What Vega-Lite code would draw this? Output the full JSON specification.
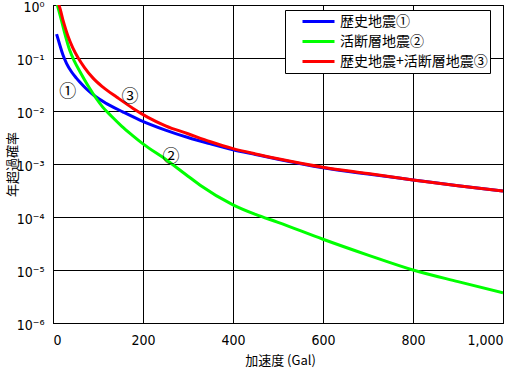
{
  "$schema": "https://vega.github.io/schema/vega-lite/v6.json",
  "width": 450,
  "height": 318,
  "autosize": {"type": "none"},
  "padding": {"left": 53, "top": 5, "right": 17, "bottom": 47},
  "background": "white",
  "config": {
    "view": {"stroke": "black", "strokeWidth": 1},
    "axis": {
      "grid": true, "gridColor": "black", "gridOpacity": 1, "gridWidth": 1,
      "domainColor": "black", "domainWidth": 1, "ticks": false,
      "labelColor": "black", "titleColor": "black",
      "labelFont": "DejaVu Sans Condensed, sans-serif",
      "labelFontSize": 14,
      "titleFont": "Noto Sans CJK JP", "titleFontSize": 13, "titleFontWeight": "normal"
    },
    "legend": {
      "labelFont": "Noto Sans CJK JP", "labelFontSize": 14, "labelColor": "black"
    }
  },
  "datasets": {
    "curves": [
      {"g": 8, "p": 0.282, "s": "歴史地震①"},
      {"g": 15, "p": 0.178, "s": "歴史地震①"},
      {"g": 22, "p": 0.115, "s": "歴史地震①"},
      {"g": 30, "p": 0.0794, "s": "歴史地震①"},
      {"g": 41, "p": 0.055, "s": "歴史地震①"},
      {"g": 52, "p": 0.0417, "s": "歴史地震①"},
      {"g": 60, "p": 0.0347, "s": "歴史地震①"},
      {"g": 75, "p": 0.0257, "s": "歴史地震①"},
      {"g": 90, "p": 0.02, "s": "歴史地震①"},
      {"g": 119, "p": 0.0138, "s": "歴史地震①"},
      {"g": 156, "p": 0.00955, "s": "歴史地震①"},
      {"g": 193, "p": 0.00676, "s": "歴史地震①"},
      {"g": 250, "p": 0.00437, "s": "歴史地震①"},
      {"g": 300, "p": 0.00316, "s": "歴史地震①"},
      {"g": 350, "p": 0.0024, "s": "歴史地震①"},
      {"g": 400, "p": 0.00186, "s": "歴史地震①"},
      {"g": 450, "p": 0.00151, "s": "歴史地震①"},
      {"g": 500, "p": 0.00123, "s": "歴史地震①"},
      {"g": 600, "p": 0.000851, "s": "歴史地震①"},
      {"g": 700, "p": 0.000646, "s": "歴史地震①"},
      {"g": 800, "p": 0.000501, "s": "歴史地震①"},
      {"g": 900, "p": 0.000389, "s": "歴史地震①"},
      {"g": 1000, "p": 0.000309, "s": "歴史地震①"},
      {"g": 9, "p": 1.05, "s": "活断層地震②"},
      {"g": 18.5, "p": 0.525, "s": "活断層地震②"},
      {"g": 26, "p": 0.295, "s": "活断層地震②"},
      {"g": 37, "p": 0.141, "s": "活断層地震②"},
      {"g": 48, "p": 0.0851, "s": "活断層地震②"},
      {"g": 60, "p": 0.055, "s": "活断層地震②"},
      {"g": 70, "p": 0.0389, "s": "活断層地震②"},
      {"g": 82, "p": 0.0263, "s": "活断層地震②"},
      {"g": 95, "p": 0.0178, "s": "活断層地震②"},
      {"g": 111, "p": 0.0117, "s": "活断層地震②"},
      {"g": 130, "p": 0.00794, "s": "活断層地震②"},
      {"g": 153, "p": 0.00513, "s": "活断層地震②"},
      {"g": 175, "p": 0.00355, "s": "活断層地震②"},
      {"g": 200, "p": 0.0024, "s": "活断層地震②"},
      {"g": 253, "p": 0.00118, "s": "活断層地震②"},
      {"g": 300, "p": 0.000589, "s": "活断層地震②"},
      {"g": 327, "p": 0.000398, "s": "活断層地震②"},
      {"g": 400, "p": 0.00017, "s": "活断層地震②"},
      {"g": 450, "p": 0.000112, "s": "活断層地震②"},
      {"g": 500, "p": 0.0000794, "s": "活断層地震②"},
      {"g": 600, "p": 0.000038, "s": "活断層地震②"},
      {"g": 700, "p": 0.0000191, "s": "活断層地震②"},
      {"g": 800, "p": 0.00001, "s": "活断層地震②"},
      {"g": 900, "p": 0.00000603, "s": "活断層地震②"},
      {"g": 1000, "p": 0.00000372, "s": "活断層地震②"},
      {"g": 9, "p": 1.1, "s": "歴史地震+活断層地震③"},
      {"g": 13, "p": 1.0, "s": "歴史地震+活断層地震③"},
      {"g": 22, "p": 0.525, "s": "歴史地震+活断層地震③"},
      {"g": 33, "p": 0.263, "s": "歴史地震+活断層地震③"},
      {"g": 44, "p": 0.155, "s": "歴史地震+活断層地震③"},
      {"g": 56, "p": 0.1, "s": "歴史地震+活断層地震③"},
      {"g": 70, "p": 0.0661, "s": "歴史地震+活断層地震③"},
      {"g": 89, "p": 0.0417, "s": "歴史地震+活断層地震③"},
      {"g": 111, "p": 0.0282, "s": "歴史地震+活断層地震③"},
      {"g": 142, "p": 0.0182, "s": "歴史地震+活断層地震③"},
      {"g": 178, "p": 0.0112, "s": "歴史地震+活断層地震③"},
      {"g": 211, "p": 0.00759, "s": "歴史地震+活断層地震③"},
      {"g": 250, "p": 0.00525, "s": "歴史地震+活断層地震③"},
      {"g": 300, "p": 0.00372, "s": "歴史地震+活断層地震③"},
      {"g": 350, "p": 0.00263, "s": "歴史地震+活断層地震③"},
      {"g": 400, "p": 0.00195, "s": "歴史地震+活断層地震③"},
      {"g": 450, "p": 0.00155, "s": "歴史地震+活断層地震③"},
      {"g": 500, "p": 0.00126, "s": "歴史地震+活断層地震③"},
      {"g": 600, "p": 0.000871, "s": "歴史地震+活断層地震③"},
      {"g": 700, "p": 0.000661, "s": "歴史地震+活断層地震③"},
      {"g": 800, "p": 0.000501, "s": "歴史地震+活断層地震③"},
      {"g": 900, "p": 0.000389, "s": "歴史地震+活断層地震③"},
      {"g": 1000, "p": 0.000309, "s": "歴史地震+活断層地震③"}
    ],
    "notes": [
      {"g": 33, "p": 0.0229, "t": "①"},
      {"g": 262, "p": 0.00135, "t": "②"},
      {"g": 171, "p": 0.0182, "t": "③"}
    ]
  },
  "layer": [
    {
      "data": {"name": "curves"},
      "mark": {"type": "line", "strokeWidth": 3, "clip": true, "interpolate": "monotone"},
      "encoding": {
        "x": {
          "field": "g", "type": "quantitative",
          "scale": {"domain": [0, 1000], "nice": false},
          "axis": {
            "values": [0, 200, 400, 600, 800, 1000],
            "labelPadding": 10,
            "title": "加速度 (Gal)",
            "titleX": 227, "titleY": 37, "titleBaseline": "middle"
          }
        },
        "y": {
          "field": "p", "type": "quantitative",
          "scale": {"type": "log", "domain": [0.000001, 1], "nice": false},
          "axis": {
            "values": [0.000001, 0.00001, 0.0001, 0.001, 0.01, 0.1, 1],
            "labelExpr": "['10⁻⁶','10⁻⁵','10⁻⁴','10⁻³','10⁻²','10⁻¹','10⁰'][round(log(datum.value)/LN10)+6]",
            "labelPadding": 9,
            "labelOffset": 2,
            "title": "年超過確率",
            "titleX": -41, "titleY": 159, "titleBaseline": "middle", "titleAngle": -90
          }
        },
        "color": {
          "field": "s", "type": "nominal",
          "sort": ["歴史地震①", "活断層地震②", "歴史地震+活断層地震③"],
          "scale": {
            "domain": ["歴史地震①", "活断層地震②", "歴史地震+活断層地震③"],
            "range": ["#0000ff", "#00ff00", "#ff0000"]
          },
          "legend": {
            "title": null,
            "orient": "none",
            "legendX": 232, "legendY": 5,
            "symbolType": "stroke",
            "symbolSize": 1024,
            "symbolStrokeWidth": 3,
            "clipHeight": 19,
            "symbolOffset": 14,
            "labelOffset": 4,
            "rowPadding": 1,
            "padding": 2,
            "strokeColor": "black",
            "fillColor": "white"
          }
        }
      }
    },
    {
      "data": {"name": "notes"},
      "mark": {"type": "text", "font": "Noto Sans CJK JP", "fontSize": 17, "color": "black", "align": "center", "baseline": "middle"},
      "encoding": {
        "x": {"field": "g", "type": "quantitative"},
        "y": {"field": "p", "type": "quantitative"},
        "text": {"field": "t"}
      }
    }
  ]
}
